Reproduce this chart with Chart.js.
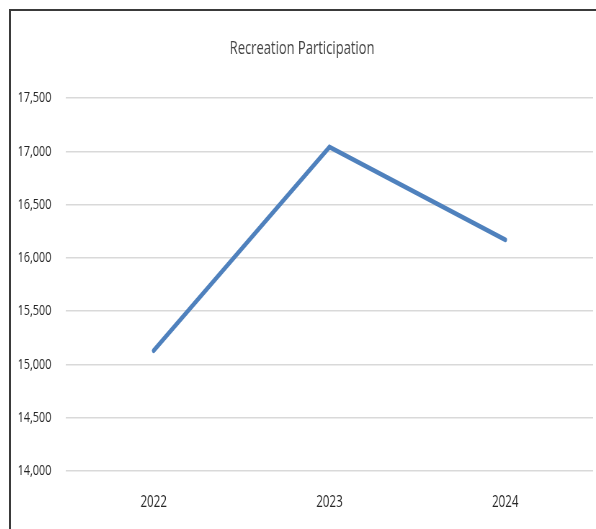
<!DOCTYPE html>
<html>
<head>
<meta charset="utf-8">
<script src="https://cdn.jsdelivr.net/npm/chart.js@4/dist/chart.umd.min.js"></script>
<style>
  html, body { margin: 0; padding: 0; background: #fff; }
  #frame {
    position: absolute;
    left: 9px;
    top: 9px;
    width: 587px;
    height: 520px;
    border-top: 2px solid #3a3a3a;
    border-left: 2px solid #3a3a3a;
  }
  /* the reference is a horizontally squeezed screenshot: draw wide, show narrow */
  #chart { display: block; width: 585px; height: 518px; }
</style>
</head>
<body>
<div id="frame">
  <canvas id="chart" width="812" height="518" style="width:585px;height:518px"></canvas>
</div>
<script>
const years = ['2022', '2023', '2024'];
const participation = [15130, 17040, 16170];
const yMin = 14000;
const yMax = 17500;
const yStep = 500;

const font = "'Open Sans', 'Noto Sans', sans-serif";

const ctx = document.getElementById('chart').getContext('2d');

new Chart(ctx, {
    type: 'line',
    data: {
        labels: years,
        datasets: [{
            label: 'Recreation Participation',
            data: participation,
            borderColor: '#4f81bd',
            borderWidth: 5,
            borderCapStyle: 'round',
            borderJoinStyle: 'miter',
            pointRadius: 0,
            pointHoverRadius: 0,
            tension: 0,
            fill: false
        }]
    },
    options: {
        responsive: false,
        animation: false,
        devicePixelRatio: 1,
        layout: {
            padding: { left: 0, right: 4, top: 0, bottom: 0 }
        },
        plugins: {
            legend: { display: false },
            tooltip: { enabled: false },
            title: {
                display: true,
                text: 'Recreation Participation',
                color: '#404040',
                font: { family: font, size: 18, weight: 'normal' },
                padding: { top: 27, bottom: 38.4 }
            }
        },
        scales: {
            x: {
                offset: true,
                grid: { display: false, drawTicks: false },
                border: { display: false },
                ticks: {
                    color: '#262626',
                    font: { family: font, size: 16 },
                    padding: 21.5,
                    maxRotation: 0
                },
                afterFit: function (axis) { axis.height = 58; }
            },
            y: {
                min: yMin,
                max: yMax,
                grid: { color: '#d9d9d9', lineWidth: 1.5, drawTicks: false },
                border: { display: false },
                ticks: {
                    stepSize: yStep,
                    color: '#262626',
                    font: { family: font, size: 15 },
                    padding: 20,
                    callback: function (value) {
                        return value.toLocaleString('en-US');
                    }
                },
                afterFit: function (axis) { axis.width = 76; }
            }
        }
    }
});
</script>
</body>
</html>
